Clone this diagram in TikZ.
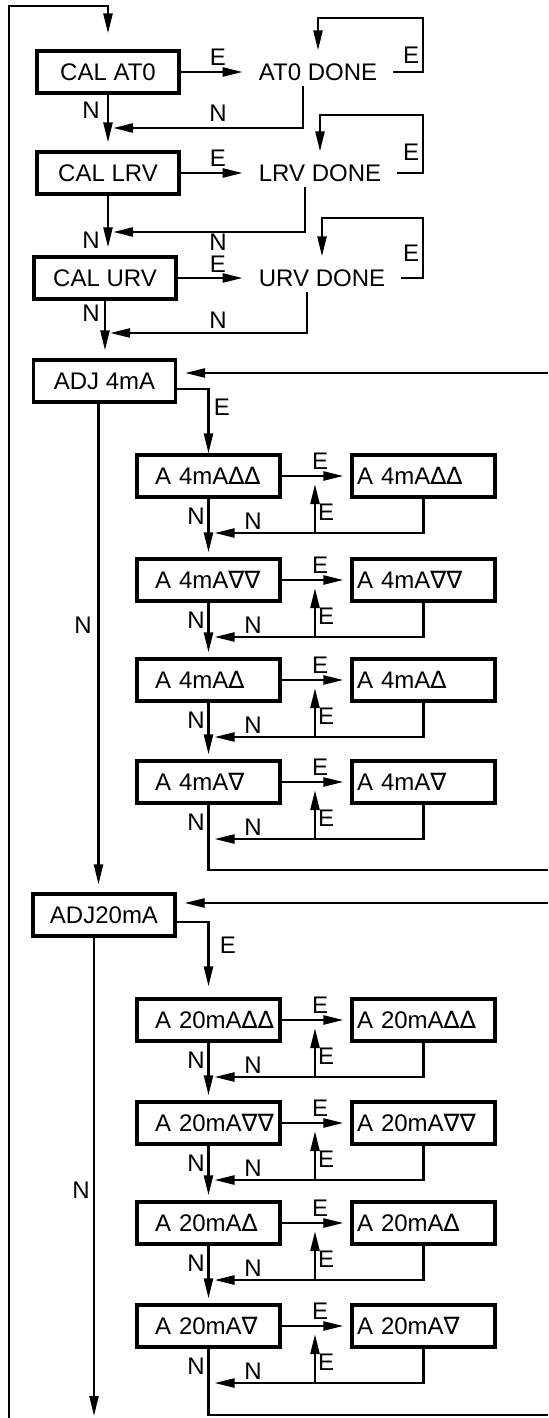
\documentclass[tikz,border=0pt]{standalone}
\usepackage{fontspec}
\setmainfont{Liberation Sans}
\newfontfamily\trifont{DejaVu Sans}
\newcommand{\tup}{{\trifont\symbol{"2206}}}
\newcommand{\tdn}{{\trifont\symbol{"2207}}}
\usetikzlibrary{arrows.meta, calc}
\tikzset{
  every picture/.style={font=\fontsize{12}{14}\selectfont, line width=1.2pt},
  box/.style={draw, line width=1.6pt, minimum width=71pt, minimum height=21pt, inner sep=0pt},
  lbox/.style={box, text width=71.5pt, align=left, execute at begin node={\hspace*{9pt}}},
  rbox/.style={box, text width=66.5pt, inner xsep=2.5pt, align=left},
  done/.style={inner xsep=7.5pt, inner ysep=2pt},
  arrow/.style={-{Triangle[length=10pt, width=4.5pt]}},
  lbl/.style={inner sep=0pt},
}

\begin{document}
\begin{tikzpicture}[x=0.5pt, y=-0.5pt]
  \useasboundingbox (0,0) rectangle (548,1418);
  % calibration steps
  \node[box] (c1) at (108,72) {CAL AT0};
  \node[box] (c2) at (108,173) {CAL LRV};
  \node[box] (c3) at (105,278) {CAL URV};
  \node[done] (d1) at (318,72) {AT0 DONE};
  \node[done] (d2) at (320,173) {LRV DONE};
  \node[done] (d3) at (322,278) {URV DONE};
  \coordinate (m1) at (108,128);
  \coordinate (m2) at (108,232);
  \coordinate (m3) at (105,333);
  \coordinate (k1) at (423,18);
  \coordinate (k2) at (423,115);
  \coordinate (k3) at (423,218);
  \node[box] (adj4) at (104.5,381) {ADJ 4mA};
  \node[box] (adj20) at (104,915) {ADJ20mA};
  \foreach \i/\ec/\na/\nb/\el in {1/57/110/113/55, 2/158/240/242/152, 3/264/313/320/253} {
    \draw[arrow] (c\i.east) -- (d\i.west);
    \draw[arrow, shorten >=4pt] (d\i.east) -| (k\i) -| (d\i.north);
    \draw[arrow, shorten >=2.5pt] ([xshift=-7.5pt]d\i.south) |- (m\i);
    \node[lbl] (eC\i) at (218,\ec) {E};
    \node[lbl] (nC\i) at (91,\na) {N};
    \node[lbl] (nD\i) at (218,\nb) {N};
    \node[lbl] (eD\i) at (411,\el) {E};
  }
  \foreach \a/\b in {c1/c2, c2/c3, c3/adj4}
    \draw[arrow, shorten >=4pt] (\a.south) -- (\a.south |- \b.north);

  % trim steps
  \foreach \i/\y/\t in {1/476/{A 4mA\tup\tup}, 2/580/{A 4mA\tdn\tdn},
      3/680/{A 4mA\tup}, 4/782/{A 4mA\tdn}, 5/1020/{A 20mA\tup\tup},
      6/1123/{A 20mA\tdn\tdn}, 7/1223/{A 20mA\tup}, 8/1326/{A 20mA\tdn}} {
    \node[lbox] (L\i) at (208.5,\y) {\t};
    \node[rbox] (R\i) at (423.5,\y) {\t};
    \coordinate (J\i) at (315,\y+57);
    \draw[arrow, shorten >=3.5pt] (L\i.east) -- (R\i.west);
    \draw[arrow, shorten >=3pt] (R\i.south) |- (L\i.south |- J\i);
    \draw[arrow, shorten >=4pt] (J\i) -- (J\i |- L\i.east);
    \node[lbl] (eT\i) at (320,\y-15) {E};
    \node[lbl] (eB\i) at (326,\y+36) {E};
    \node[lbl] (nL\i) at (196,\y+40) {N};
    \node[lbl] (nR\i) at (253,\y+45) {N};
  }
  \foreach \a/\b in {1/2, 2/3, 3/4, 5/6, 6/7, 7/8}
    \draw[arrow, shorten >=2.5pt] (L\a.south) -- (L\b.north);

  % loops round the edges
  \coordinate (top) at (9,6);
  \coordinate (bot) at (9,1418);
  \coordinate (back4) at (548,373);
  \coordinate (out4) at (548,870);
  \coordinate (back20) at (548,903);
  \coordinate (out20) at (548,1415);
  \coordinate (end20) at (94,1416);
  \draw[arrow, shorten >=8pt] (bot) -- (top) -| (c1.north);
  \draw[arrow, shorten >=4pt] (back4) -- (back4 -| adj4.east);
  \draw[arrow, shorten >=4pt] (back20) -- (back20 -| adj20.east);
  \draw[arrow] ([yshift=-4pt]adj4.east) -| (L1.north);
  \draw[arrow, shorten >=5.5pt] ([yshift=-3.5pt]adj20.east) -| (L5.north);
  \draw (L4.south) |- (out4);
  \draw (L8.south) |- (out20);
  \draw[arrow, shorten >=4pt] ($(adj4.south)+(-6,0)$) -- ($(adj4.south |- adj20.north)+(-6,0)$);
  \draw[arrow] (adj20.south -| end20) -- (end20);
  \node[lbl] (eA4) at (222,407) {E};
  \node[lbl] (eA20) at (228,945) {E};
  \node[lbl] (nA4) at (83,625) {N};
  \node[lbl] (nA20) at (81,1190) {N};
\end{tikzpicture}
\end{document}
